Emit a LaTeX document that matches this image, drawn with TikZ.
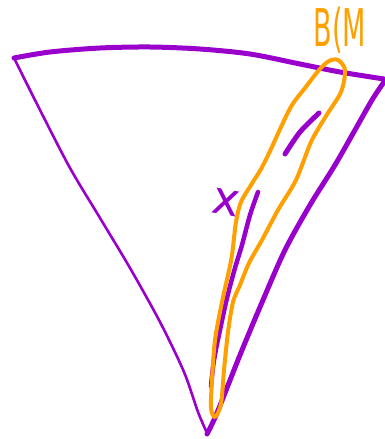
\documentclass[tikz,border=0pt]{standalone}
\usepackage{fontspec}
\setsansfont{DejaVu Sans}
\definecolor{penpurple}{RGB}{153,0,204}
\definecolor{penorange}{RGB}{255,160,0}
\begin{document}
\begin{tikzpicture}[x=1pt, y=-1pt,
    thinpen/.style={penpurple, line width=2.6pt, line cap=round, line join=round},
    thickpen/.style={penpurple, line width=5pt, line cap=round, line join=round},
    orangepen/.style={penorange, line width=4pt, line cap=round, line join=round}]
    \useasboundingbox (0,0) rectangle (384,439);

    % Dreieck
    \draw[thickpen] plot[smooth] coordinates {(14,58) (50,52) (100,48) (150,47) (200,49) (250,54) (300,64) (340,72) (384,79)};
    \draw[thinpen] plot[smooth] coordinates {(14,58) (40,110) (70,168) (100,218) (130,268) (160,322) (184,372) (198,412) (207,433)};
    \draw[thickpen] plot[smooth] coordinates {(207,434) (217,413) (240,355) (263,300) (285,250) (310,205) (335,165) (355,130) (372,100) (384,82)};

    % Striche innen
    \draw[thickpen] plot[smooth] coordinates {(285,154) (300,132) (319,113)};
    \draw[thickpen, line width=4.5pt] plot[smooth] coordinates {(258,192) (250,215) (242,245) (235,268) (227,298) (220,330) (214,360) (211,386)};

    % Umgebung
    \draw[orangepen] plot[smooth cycle] coordinates {(338,60) (345,70) (341,92) (326,116) (311,142) (296,180) (278,210) (262,240) (249,263) (240,285) (233,302) (228,332) (224,370) (221,404) (215,417) (211,408) (212,380) (215,340) (222,302) (228,275) (232,255) (236,222) (241,202) (251,185) (261,169) (271,149) (281,127) (292,105) (305,88) (319,70) (329,61)};

    % Beschriftung
    \node[penorange, font=\sffamily\fontsize{52}{52}\selectfont, xscale=0.52] (label) at (340,30) {B(M};
    \node[penpurple, font=\sffamily\fontsize{46}{46}\selectfont, rotate=-10] (point) at (226,202) {x};
\end{tikzpicture}
\end{document}
